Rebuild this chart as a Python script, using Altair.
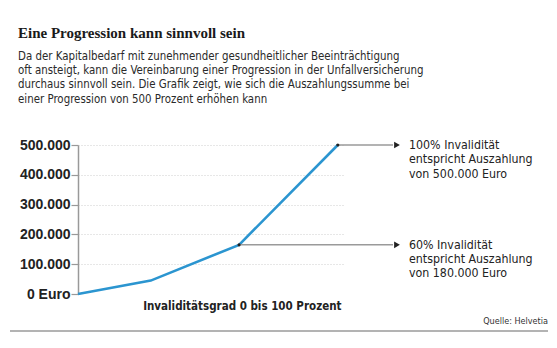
import altair as alt
import pandas as pd

# ---- data ----
grad = [0, 28, 62, 100]                       # Invaliditätsgrad in %
summe = [0, 45000, 165000, 500000]           # Auszahlungssumme in Euro

annot_grad = [62, 100]
annot_summe = [165000, 500000]
annot_text = [
    "60% Invalidität\nentspricht Auszahlung\nvon 180.000 Euro",
    "100% Invalidität\nentspricht Auszahlung\nvon 500.000 Euro",
]

y_ticks = [0, 100000, 200000, 300000, 400000, 500000]
title_text = "Eine Progression kann sinnvoll sein"
subtitle_lines = [
    "Da der Kapitalbedarf mit zunehmender gesundheitlicher Beeinträchtigung",
    "oft ansteigt, kann die Vereinbarung einer Progression in der Unfallversicherung",
    "durchaus sinnvoll sein. Die Grafik zeigt, wie sich die Auszahlungssumme bei",
    "einer Progression von 500 Prozent erhöhen kann",
]
x_title = "Invaliditätsgrad 0 bis 100 Prozent"
source_text = "Quelle: Helvetia"

TEXT_FONT = "Liberation Sans Narrow, DejaVu Sans Condensed, Roboto, sans-serif"
BLUE = "#2b95d0"
DARK = "#222222"

df = pd.DataFrame({"grad": grad, "summe": summe})
ann = pd.DataFrame({"grad": annot_grad, "summe": annot_summe, "text": annot_text})
one = pd.DataFrame({"k": [0]})

x_scale = alt.Scale(domain=[0, 102], nice=False)
y_scale = alt.Scale(domain=[0, 500000], nice=False)

x_axis = alt.Axis(labels=False, ticks=False, domain=False, grid=False,
                  title=x_title, titleFont=TEXT_FONT, titleFontSize=11.5,
                  titleFontWeight="bold", titleColor=DARK,
                  titleAlign="right", titleX=263, titleY=15,
                  titleBaseline="alphabetic")
y_axis = alt.Axis(values=y_ticks, title=None, labelOverlap=False, labelFlush=False,
                  labelExpr="datum.value == 0 ? '0 Euro' : format(datum.value/1000, 'd') + '.000'",
                  labelFont="Liberation Sans, sans-serif", labelFontSize=14,
                  labelFontWeight="bold", labelColor=DARK, labelPadding=1,
                  domainColor="#999999", domainWidth=1.5,
                  tickColor="#999999", tickSize=7, tickWidth=1.2,
                  gridColor="#cfcfcf", gridDash=[1, 2], gridWidth=1,
                  gridOpacity={"condition": {"test": "datum.value === 0", "value": 0}, "value": 1})

X = alt.X("grad:Q", scale=x_scale, axis=x_axis)
Y = alt.Y("summe:Q", scale=y_scale, axis=y_axis)

line = alt.Chart(df).mark_line(color=BLUE, strokeWidth=2.6).encode(x=X, y=Y)

rules = alt.Chart(ann).mark_rule(color="#9a9a9a", strokeWidth=1.5).encode(
    x=X, x2=alt.value(315), y=Y)

dots = alt.Chart(ann).mark_circle(color=DARK, size=10, opacity=1).encode(x=X, y=Y)

arrows = alt.Chart(ann).mark_point(shape="triangle-right", filled=True, color=DARK,
                                   size=45, opacity=1).encode(
    x=alt.value(319), y=Y)

labels = alt.Chart(ann).mark_text(align="left", baseline="alphabetic", lineBreak="\n",
                                  lineHeight=14.3, font=TEXT_FONT, fontSize=12.3,
                                  color=DARK, dy=4).encode(
    x=alt.value(331), y=Y, text="text:N")

title = alt.Chart(one).mark_text(align="left", baseline="alphabetic",
                                 font="Liberation Serif, serif", fontSize=15,
                                 fontWeight="bold", color="#1a1a1a").encode(
    x=alt.value(-60), y=alt.value(-107.5), text=alt.value(title_text))

subtitle = alt.Chart(one).mark_text(align="left", baseline="alphabetic",
                                    font=TEXT_FONT, fontSize=11.4, lineHeight=14.2,
                                    color="#2a2a2a").encode(
    x=alt.value(-60), y=alt.value(-85), text=alt.value(subtitle_lines))

source = alt.Chart(one).mark_text(align="right", baseline="alphabetic",
                                  font=TEXT_FONT, fontSize=9, color="#333333").encode(
    x=alt.value(470), y=alt.value(178.5), text=alt.value(source_text))

bottom_rule = alt.Chart(one).mark_rule(color="#9a9a9a", strokeWidth=1.5).encode(
    x=alt.value(-68), x2=alt.value(470), y=alt.value(186))

chart = alt.layer(line, rules, dots, arrows, labels, title, subtitle, source, bottom_rule).properties(
    width=265, height=149,
    padding={"left": 78, "top": 145, "right": 214, "bottom": 54},
    autosize=alt.AutoSizeParams(type="none"),
    background="white",
).configure_view(stroke=None)

chart.save("out.html", embed_options={"renderer": "svg", "actions": False})
